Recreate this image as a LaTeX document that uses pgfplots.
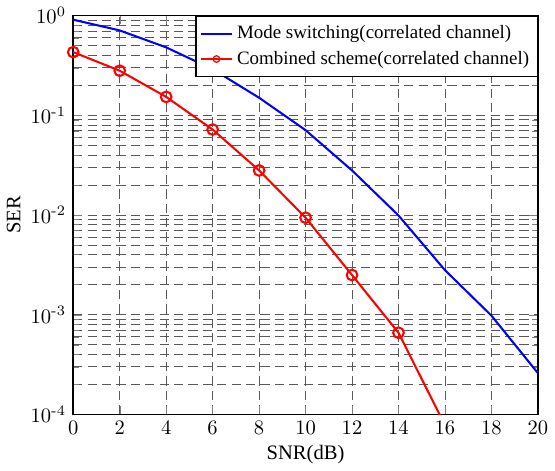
\documentclass[border=0pt]{standalone}
\usepackage{fontspec}
\usepackage{pgfplots}
\pgfplotsset{compat=1.18}
\newfontfamily\legfont{Liberation Serif}
\begin{document}
\begin{tikzpicture}
\begin{axis}[
  scale only axis,
  width=226pt, height=194pt,
  ymode=log,
  xmin=0, xmax=20, ymin=1e-4, ymax=1,
  xtick={0,2,...,20},
  ytick={1e-4,1e-3,1e-2,1e-1,1},
  yticklabels={10\textsuperscript{-4},10\textsuperscript{-3},10\textsuperscript{-2},10\textsuperscript{-1},10\textsuperscript{0}},
  tick align=inside,
  grid=both,
  major grid style={black!65, dash pattern=on 4.5pt off 2.5pt, line width=0.4pt},
  minor grid style={black!65, dash pattern=on 4.5pt off 2.5pt, line width=0.4pt},
  minor y tick num=8,
  axis line style={line width=0.8pt},
  xlabel={\legfont SNR(dB)}, ylabel={\legfont SER},
  xlabel style={yshift=2pt},
  ylabel style={yshift=-2pt},
  legend style={at={(rel axis cs:1,1)}, anchor=north east, font=\legfont\fontsize{9.2}{10.5}\selectfont,
    draw=black, line width=0.6pt, inner xsep=2pt, inner ysep=2.5pt, row sep=0.5pt, cells={anchor=west}},
  legend cell align=left,
  legend image code/.code={\draw[#1, mark indices={2}, mark size=1.6pt, mark options={fill=white, line width=0.6pt}] plot coordinates {(0pt,0pt) (7.5pt,0pt) (15pt,0pt)};},
]
\addplot[blue, line width=1pt] coordinates {
(0,0.91) (2,0.71) (4,0.48) (6,0.29) (8,0.15) (10,0.071) (12,0.028) (14,0.0099) (16,0.0028) (18,0.00098) (20,0.00026)};
\addlegendentry{Mode switching(correlated channel)}
\addplot[red, line width=1pt, mark=o, mark size=2.6pt, mark options={fill=white, line width=1pt},
  mark indices={1,2,3,4,5,6,7,8}] coordinates {
(0,0.43) (2,0.28) (4,0.153) (6,0.072) (8,0.028) (10,0.0094) (12,0.0025) (14,0.00066) (16,0.000078)};
\addlegendentry{Combined scheme(correlated channel)}
\end{axis}
\end{tikzpicture}
\end{document}
